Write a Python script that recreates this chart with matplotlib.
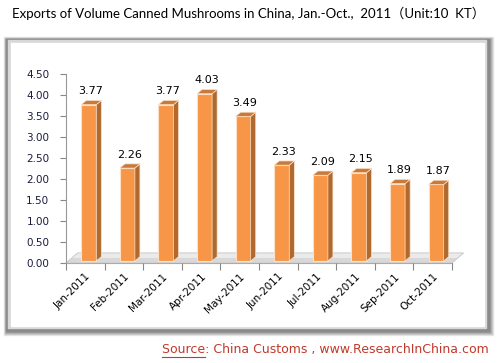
import matplotlib.pyplot as plt
import matplotlib.patches as patches
import numpy as np

months = ['Jan-2011', 'Feb-2011', 'Mar-2011', 'Apr-2011', 'May-2011',
          'Jun-2011', 'Jul-2011', 'Aug-2011', 'Sep-2011', 'Oct-2011']
volumes = [3.77, 2.26, 3.77, 4.03, 3.49, 2.33, 2.09, 2.15, 1.89, 1.87]
yticks = [0.0, 0.5, 1.0, 1.5, 2.0, 2.5, 3.0, 3.5, 4.0, 4.5]

W, H = 497, 363
fig = plt.figure(figsize=(W / 100, H / 100), dpi=100)
fig.patch.set_facecolor('white')

# bevelled gray frame, drawn in pixel coords on the figure
def px_rect(x0, y0, x1, y1, color, z):
    fig.patches.append(patches.Rectangle((x0 / W, 1 - y1 / H), (x1 - x0) / W, (y1 - y0) / H,
                                         transform=fig.transFigure, color=color, zorder=z))

grays = ['#e6e6e6', '#cfcfcf', '#b5b5b5', '#9c9c9c', '#8a8a8a']
for i, g in enumerate(grays):
    px_rect(4 + i * 0.6, 37 + i * 0.6, 493 - i, 335 - i, g, 0 + i * 0.01)
px_rect(8, 40, 486, 328, '#d8d8d8', 0.1)
px_rect(11, 43, 484, 326, 'white', 0.2)

ax = fig.add_axes([66 / W, (H - 263) / H, (452 - 66) / W, (263 - 74) / H])
ax.set_facecolor('none')
ax.set_zorder(2)

x = np.arange(len(months))
dx, dy = 0.13, 0.1     # depth offset of the 3d look
bw = 0.39
shift = 0.09
base = 0.05

# floor
ax.add_patch(patches.Polygon([(-0.5, 0), (9.5, 0), (9.5 + 0.3, 0.24), (-0.5 + 0.3, 0.24)],
                             closed=True, facecolor='#ebebeb', edgecolor='#c4c4c4',
                             lw=0.6, clip_on=False, zorder=1))
ax.add_patch(patches.Polygon([(-0.5, 0), (9.5, 0), (9.5 + 0.15, 0.12), (-0.5 + 0.15, 0.12)],
                             closed=True, facecolor='#cccccc', edgecolor='none',
                             clip_on=False, zorder=1.1, alpha=0.6))

xl = x + shift - bw / 2
ax.bar(x + shift, np.array(volumes) - base, bottom=base, width=bw, color='#f79646',
       edgecolor='#fde0c5', linewidth=0.8, zorder=3)
for xi, v in zip(xl, volumes):
    side = [(xi + bw, base), (xi + bw + dx, base + dy), (xi + bw + dx, v + dy), (xi + bw, v)]
    top = [(xi, v), (xi + bw, v), (xi + bw + dx, v + dy), (xi + dx, v + dy)]
    ax.add_patch(patches.Polygon(side, closed=True, facecolor='#b0692e',
                                 edgecolor='#fde0c5', lw=0.5, zorder=3, clip_on=False))
    ax.add_patch(patches.Polygon(top, closed=True, facecolor='#c97a3a',
                                 edgecolor='#fde0c5', lw=0.5, zorder=3, clip_on=False))
    ax.text(xi + bw / 2 + 0.05, v + 0.2, f'{v:.2f}', ha='center', va='bottom',
            fontsize=8, family='DejaVu Sans', color='black', zorder=4)

ax.set_xlim(-0.5, 9.5)
ax.set_ylim(0, 4.5)
ax.set_yticks(yticks)
ax.set_yticklabels([f'{t:.2f}' for t in yticks], fontsize=7.5, color='#1a1a40')
ax.set_xticks(np.arange(-0.5, 10, 1), minor=False)
ax.set_xticklabels([])
ax.set_xticks(x, minor=True)
ax.set_xticklabels(months, minor=True, rotation=45, ha='right', rotation_mode='anchor',
                   fontsize=7.5)
ax.tick_params(axis='x', which='minor', length=0, pad=6)
ax.tick_params(axis='x', which='major', length=5, color='#888888', direction='out')
ax.tick_params(axis='y', length=4, color='#888888', pad=8)
for s in ['top', 'right']:
    ax.spines[s].set_visible(False)
ax.spines['left'].set_color('#999999')
ax.spines['bottom'].set_color('#999999')
ax.spines['bottom'].set_zorder(0.5)

fig.text(12 / W, 1 - 13 / H,
         'Exports of Volume Canned Mushrooms in China, Jan.-Oct.,  2011（Unit:10  KT）',
         ha='left', va='center', fontsize=9.5, family=['Lato', 'Noto Sans CJK SC'])

src = fig.text(489 / W, 1 - 349 / H, 'Source: China Customs , www.ResearchInChina.com',
               ha='right', va='center', fontsize=9, color='#c0392b', family='DejaVu Sans')
fig.canvas.draw()
r = fig.canvas.get_renderer()
bb = src.get_window_extent(r)
# underline for "Source"
tmp = fig.text(0, 0, 'Source', fontsize=9, family='DejaVu Sans')
sw = tmp.get_window_extent(r).width
tmp.remove()
fig.add_artist(plt.Line2D([bb.x0 / W, (bb.x0 + sw) / W], [bb.y0 / H - 0.003, bb.y0 / H - 0.003],
                          color='#c0392b', lw=0.8, transform=fig.transFigure))

fig.savefig('out.png', dpi=100)
